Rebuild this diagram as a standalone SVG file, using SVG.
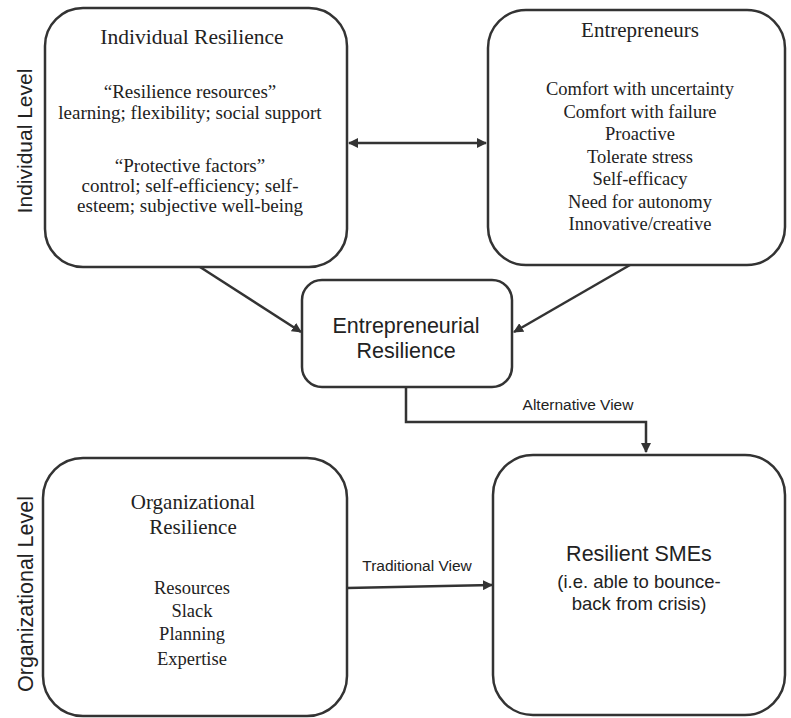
<svg xmlns="http://www.w3.org/2000/svg" width="791" height="718" viewBox="0 0 791 718">
<style>
.box{fill:#fff;stroke:#333;stroke-width:2.5}
.con{fill:none;stroke:#333;stroke-width:2.5}
.serif{font-family:"Liberation Serif",serif;fill:#222;text-anchor:middle}
.sans{font-family:"Liberation Sans",Arial,sans-serif;fill:#222;text-anchor:middle}
</style>
<defs>
<marker id="ah" viewBox="0 0 10 10" refX="9" refY="5" markerWidth="4" markerHeight="4" orient="auto-start-reverse" markerUnits="strokeWidth">
<path d="M0,0 L10,5 L0,10 z" fill="#333"/>
</marker>
</defs>
<rect width="791" height="718" fill="#fff"/>
<text class="sans" font-size="21" transform="translate(32,141) rotate(-90)">Individual Level</text>
<text class="sans" font-size="21.5" transform="translate(33,594) rotate(-90)">Organizational Level</text>
<g id="connectors">
<line class="con" x1="349" y1="143" x2="486" y2="143" marker-start="url(#ah)" marker-end="url(#ah)"/>
<line class="con" x1="200" y1="267" x2="301" y2="332" marker-end="url(#ah)"/>
<line class="con" x1="630" y1="265" x2="514" y2="332" marker-end="url(#ah)"/>
<polyline class="con" points="406,387 406,422 646,422 646,452" marker-end="url(#ah)"/>
<line class="con" x1="347" y1="588" x2="492" y2="585" marker-end="url(#ah)"/>
<text class="sans" font-size="15.5" x="578" y="410">Alternative View</text>
<text class="sans" font-size="15.5" x="417" y="571">Traditional View</text>
</g>
<g id="individual">
<rect class="box" x="45" y="8" width="302" height="259" rx="38"/>
<text class="serif" font-size="21.5" x="192" y="44">Individual Resilience</text>
<text class="serif" font-size="19" x="190" y="98">“Resilience resources”</text>
<text class="serif" font-size="19" x="190" y="119">learning; flexibility; social support</text>
<text class="serif" font-size="19" x="190" y="172">“Protective factors”</text>
<text class="serif" font-size="19" x="190" y="192">control; self-efficiency; self-</text>
<text class="serif" font-size="19" x="190" y="212">esteem; subjective well-being</text>
</g>
<g id="entrepreneurs">
<rect class="box" x="488" y="10" width="297" height="255" rx="38"/>
<text class="serif" font-size="21" x="640" y="37">Entrepreneurs</text>
<text class="serif" font-size="18.5" x="640" y="95">Comfort with uncertainty</text>
<text class="serif" font-size="18.5" x="640" y="118">Comfort with failure</text>
<text class="serif" font-size="18.5" x="640" y="140">Proactive</text>
<text class="serif" font-size="18.5" x="640" y="163">Tolerate stress</text>
<text class="serif" font-size="18.5" x="640" y="185">Self-efficacy</text>
<text class="serif" font-size="18.5" x="640" y="208">Need for autonomy</text>
<text class="serif" font-size="18.5" x="640" y="230">Innovative/creative</text>
</g>
<g id="entrepreneurial">
<rect class="box" x="302" y="280" width="210" height="107" rx="20"/>
<text class="sans" font-size="21.5" x="406" y="333">Entrepreneurial</text>
<text class="sans" font-size="21.5" x="406" y="358">Resilience</text>
</g>
<g id="organizational">
<rect class="box" x="43" y="458" width="304" height="258" rx="40"/>
<text class="serif" font-size="21" x="193" y="509">Organizational</text>
<text class="serif" font-size="21" x="193" y="534">Resilience</text>
<text class="serif" font-size="18.5" x="192" y="594">Resources</text>
<text class="serif" font-size="18.5" x="192" y="617">Slack</text>
<text class="serif" font-size="18.5" x="192" y="640">Planning</text>
<text class="serif" font-size="18.5" x="192" y="665">Expertise</text>
</g>
<g id="smes">
<rect class="box" x="493" y="455" width="292" height="260" rx="40"/>
<text class="sans" font-size="21.5" x="639" y="561">Resilient SMEs</text>
<text class="sans" font-size="18.5" x="639" y="588">(i.e. able to bounce-</text>
<text class="sans" font-size="18.5" x="639" y="610">back from crisis)</text>
</g>
</svg>
